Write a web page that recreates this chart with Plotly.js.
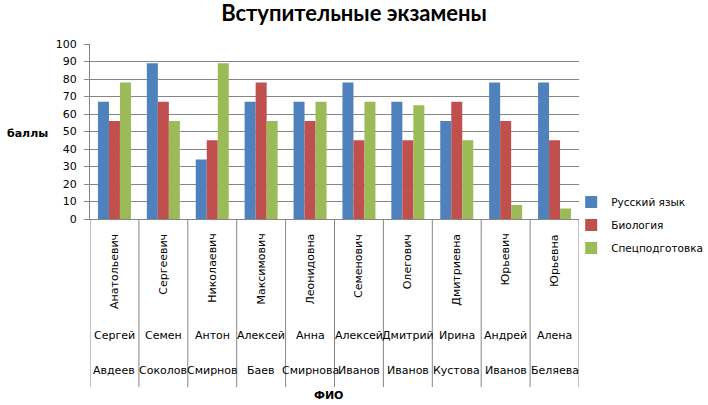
<!DOCTYPE html>
<html>
<head>
<meta charset="utf-8">
<script src="https://cdn.plot.ly/plotly-3.0.1.min.js"></script>
<style>
  html, body { margin: 0; padding: 0; background: #fff; }
  #chart { width: 708px; height: 405px; }
</style>
</head>
<body>
<div id="chart"></div>
<script>
// ФИО, three levels like the original Excel axis
const lastNames = ['Авдеев', 'Соколов', 'Смирнов', 'Баев', 'Смирнова', 'Иванов', 'Иванов', 'Кустова', 'Иванов', 'Беляева'];
const firstNames = ['Сергей', 'Семен', 'Антон', 'Алексей', 'Анна', 'Алексей', 'Дмитрий', 'Ирина', 'Андрей', 'Алена'];
const patronymics = ['Анатольевич', 'Сергеевич', 'Николаевич', 'Максимович', 'Леонидовна', 'Семенович', 'Олегович', 'Дмитриевна', 'Юрьевич', 'Юрьевна'];

const russian = [67, 89, 34, 67, 67, 78, 67, 56, 78, 78];
const biology = [56, 67, 45, 78, 56, 45, 45, 67, 56, 45];
const special = [78, 56, 89, 56, 67, 67, 65, 45, 8, 6];

const seriesNames = ['Русский язык', 'Биология', 'Спецподготовка'];
const seriesColors = ['#4F81BD', '#C0504D', '#9BBB59'];

const categories = lastNames.map((ln, i) => ln + ' ' + firstNames[i] + ' ' + patronymics[i]);

const traces = [russian, biology, special].map((vals, k) => ({
    type: 'bar',
    name: seriesNames[k],
    x: categories,
    y: vals,
    legendgroup: 'g' + k,
    marker: { color: seriesColors[k], line: { width: 0 } },
    hoverinfo: 'y+name'
}));

const labelFont = { family: '"DejaVu Sans", Verdana, sans-serif', size: 11, color: '#000' };
const gridColor = '#868686';

const annotations = [];
const shapes = [];
categories.forEach((c, i) => {
    annotations.push({ x: c, xref: 'x', y: -0.074, yref: 'paper', text: patronymics[i],
        textangle: -90, showarrow: false, xanchor: 'center', yanchor: 'top', font: labelFont });
    annotations.push({ x: c, xref: 'x', y: -0.663, yref: 'paper', text: firstNames[i],
        showarrow: false, xanchor: 'center', yanchor: 'middle', font: labelFont });
    annotations.push({ x: c, xref: 'x', y: -0.867, yref: 'paper', text: lastNames[i],
        showarrow: false, xanchor: 'center', yanchor: 'middle', font: labelFont });
});
for (let i = 0; i <= categories.length; i++) {
    shapes.push({ type: 'line', xref: 'x', yref: 'paper', x0: i - 0.5, x1: i - 0.5, y0: 0, y1: -0.96,
        line: { color: gridColor, width: 1 } });
}
annotations.push({ x: 0.487, xref: 'paper', y: -1.006, yref: 'paper', text: '<b>ФИО</b>',
    showarrow: false, xanchor: 'center', yanchor: 'middle', font: labelFont });
annotations.push({ x: -0.127, xref: 'paper', y: 0.486, yref: 'paper', text: '<b>баллы</b>',
    showarrow: false, xanchor: 'center', yanchor: 'middle', font: labelFont });

const layout = {
    width: 708,
    height: 405,
    margin: { l: 90, r: 129, t: 44, b: 186, autoexpand: false },
    paper_bgcolor: '#fff',
    plot_bgcolor: '#fff',
    title: {
        text: '<b>Вступительные экзамены</b>',
        font: { family: 'Lato', size: 22, color: '#000' },
        x: 0.5, xref: 'container', xanchor: 'center',
        y: 0.968, yref: 'container', yanchor: 'middle'
    },
    barmode: 'group',
    bargap: 0.325,
    bargroupgap: 0,
    xaxis: {
        type: 'category',
        showticklabels: false,
        ticks: '',
        showgrid: false,
        showline: true,
        linecolor: gridColor,
        linewidth: 1,
        range: [-0.5, categories.length - 0.5]
    },
    yaxis: {
        range: [0, 100],
        dtick: 10,
        tick0: 0,
        showgrid: true,
        gridcolor: gridColor,
        gridwidth: 1,
        showline: true,
        linecolor: gridColor,
        ticks: 'outside',
        ticklen: 5,
        tickcolor: gridColor,
        tickfont: labelFont,
        ticklabelstandoff: 5,
        zeroline: false,
        fixedrange: true
    },
    legend: {
        x: 0.984, xanchor: 'left',
        y: -0.034, yanchor: 'middle',
        bgcolor: 'rgba(0,0,0,0)',
        font: { family: labelFont.family, size: 10.5, color: '#000' },
        tracegroupgap: 4,
        itemwidth: 30
    },
    showlegend: true,
    annotations: annotations,
    shapes: shapes
};

Plotly.newPlot('chart', traces, layout, { displayModeBar: false, staticPlot: true });
</script>
</body>
</html>
